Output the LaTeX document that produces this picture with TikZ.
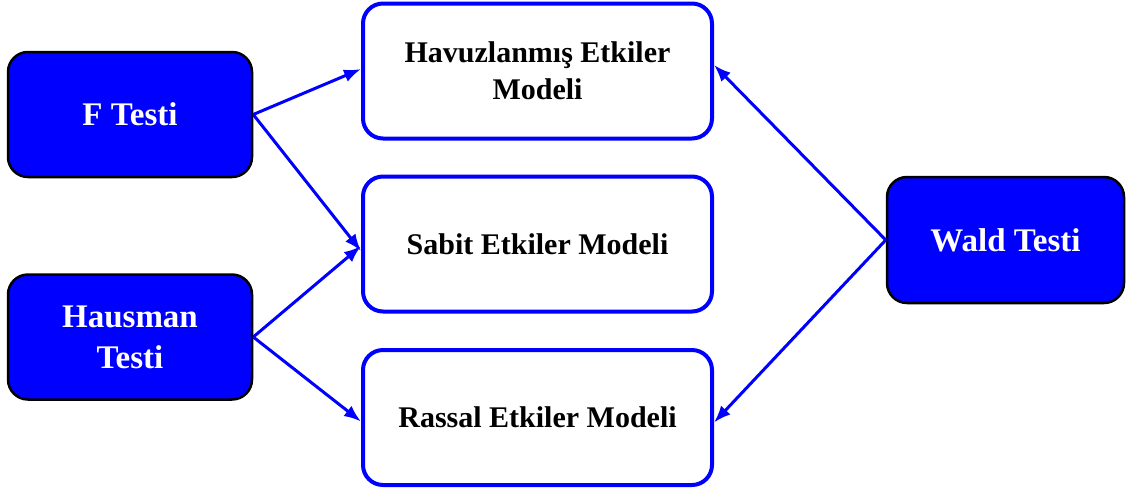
\documentclass[tikz,border=0pt]{standalone}
\usepackage{fontspec}
\setmainfont{Liberation Serif}
\usetikzlibrary{arrows.meta,calc}
\definecolor{pureblue}{RGB}{0,0,255}
\begin{document}
\begin{tikzpicture}[x=1pt,y=-1pt,
  testbox/.style={draw=black, line width=2.5pt, fill=pureblue, rounded corners=20pt,
    minimum width=244pt, minimum height=125pt, align=center, text=white,
    font=\bfseries\fontsize{33}{41}\selectfont, inner sep=0pt},
  modelbox/.style={draw=pureblue, line width=4pt, fill=white, rounded corners=20pt,
    minimum width=349pt, minimum height=135pt, align=center, text=black,
    font=\bfseries\fontsize{30}{37}\selectfont, inner sep=0pt},
  conn/.style={draw=pureblue, line width=3pt, -{Latex[length=17pt,width=13pt]}}
]
\useasboundingbox (0,0) rectangle (1126,491);
\node[testbox] (ftest) at (130,114.5) {F Testi};
\node[testbox] (haus) at (130,337) {Hausman\\Testi};
\node[testbox, minimum width=237pt, minimum height=126pt] (wald) at (1005.5,240) {Wald Testi};
\node[modelbox] (havuz) at (537.5,71) {Havuzlanmış Etkiler\\Modeli};
\node[modelbox] (sabit) at (537.5,244) {Sabit Etkiler Modeli};
\node[modelbox] (rassal) at (537.5,417.5) {Rassal Etkiler Modeli};
\draw[conn] (ftest.east) -- ([yshift=2pt]havuz.west);
\draw[conn] (ftest.east) -- ([yshift=-7pt]sabit.west);
\draw[conn] (haus.east) -- ([yshift=-2pt]sabit.west);
\draw[conn] (haus.east) -- ([yshift=-4pt]rassal.west);
\draw[conn] (wald.west) -- ([yshift=6pt]havuz.east);
\draw[conn] (wald.west) -- ([yshift=-5pt]rassal.east);
\end{tikzpicture}
\end{document}
